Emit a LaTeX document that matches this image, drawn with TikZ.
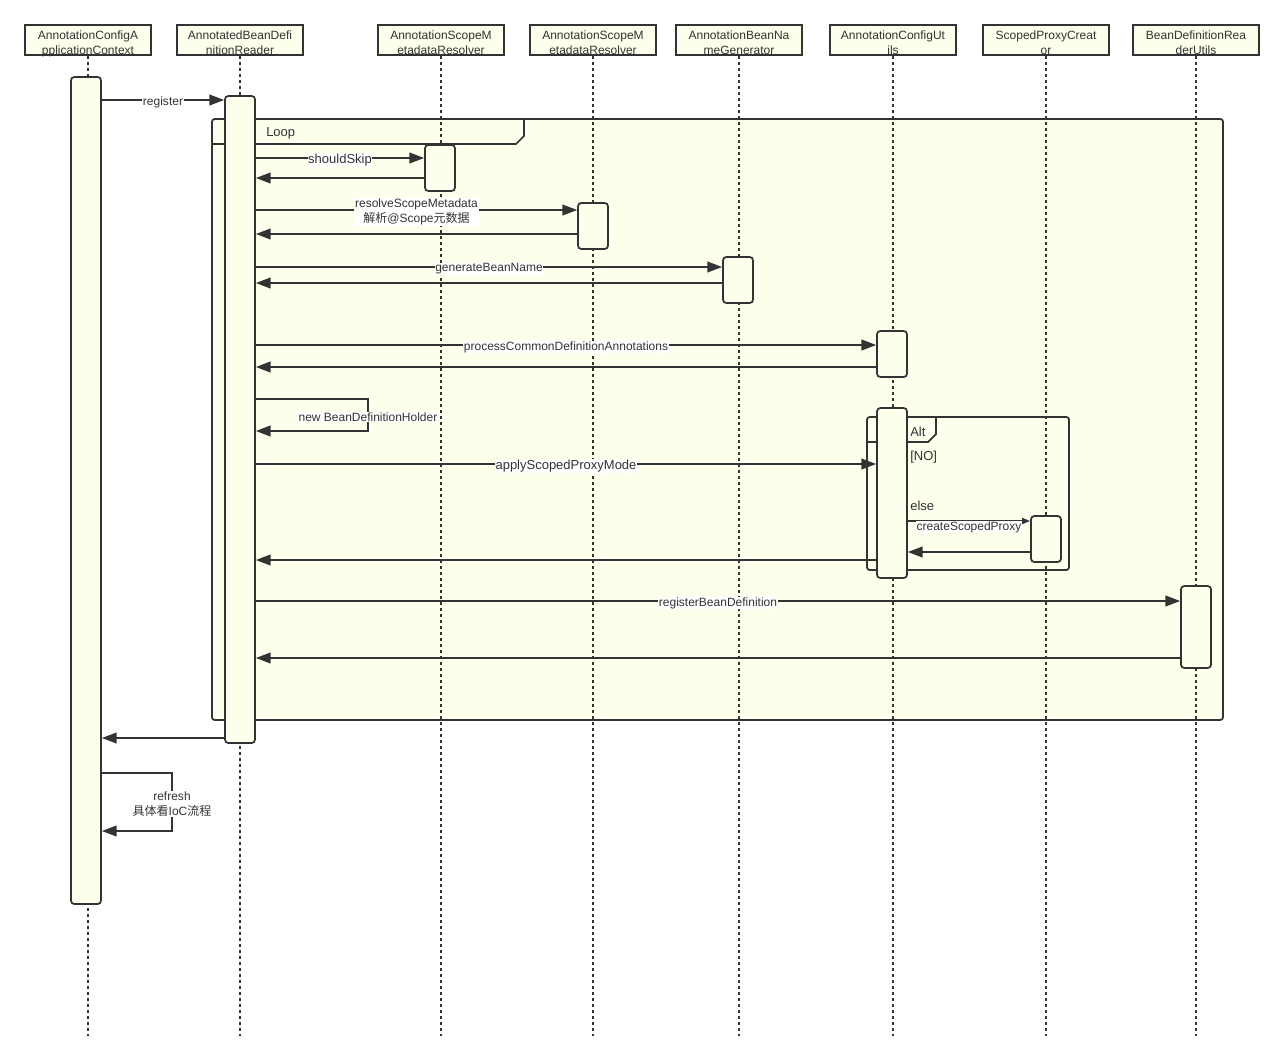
\documentclass[tikz,border=0pt]{standalone}
\usepackage{fontspec}
\setmainfont{Liberation Sans}
\newfontfamily\cjk{Noto Sans CJK SC}
\usepackage{tikz}
\usetikzlibrary{arrows.meta, fit}
\usepackage{xcolor}
\definecolor{fundo}{HTML}{FEFEEC}
\definecolor{traco}{HTML}{333333}

\begin{document}
\begin{tikzpicture}[x=0.75pt, y=-0.75pt,
    cabeca/.style={draw=traco, line width=1.5pt, fill=fundo, minimum width=94.5pt,
        minimum height=22.5pt, inner sep=0pt},
    textocab/.style={inner sep=0pt, align=center, text=traco, yshift=-3.5pt,
        font=\fontsize{9}{11.25}\selectfont},
    vida/.style={traco, line width=1.5pt, dash pattern=on 2.25pt off 2.25pt},
    barra/.style={draw=traco, line width=1.3pt, fill=fundo, rounded corners=2.5pt, inner sep=0pt},
    quadro/.style={draw=traco, line width=1.3pt, fill=fundo, rounded corners=2pt},
    aba/.style={traco, line width=1.3pt},
    msg/.style={traco, line width=1.2pt, -{Triangle[length=11pt, width=8pt]}},
    rotulo/.style={fill=white, inner sep=0.5pt, text=traco, align=center, yshift=-1.5pt,
        font=\fontsize{9}{11.25}\selectfont},
    titulo/.style={anchor=west, inner sep=0pt, text=traco, font=\fontsize{9.75}{12}\selectfont}]
    \useasboundingbox (0,0) rectangle (1284,1061);
    % Quadros
    \draw[quadro] (212,119) rectangle (1223,720);
    \draw[aba] (212,144) -- (516,144) -- (524,136) -- (524,119);
    \node[titulo] (loop) at (266,133) {Loop};
    \draw[quadro] (867,417) rectangle (1069,570);
    \draw[aba] (867,442) -- (928,442) -- (936,434) -- (936,417);
    \node[titulo] (alt) at (910,432) {Alt};
    \node[titulo] (nao) at (910,457) {[NO]};
    \node[titulo] (senao) at (910,506) {else};
    % Cabeçalhos
    \node[cabeca, label={[textocab]center:AnnotationConfigA\\pplicationContext\strut}] (hCtx) at (88,40) {};
    \node[cabeca, label={[textocab]center:AnnotatedBeanDefi\\nitionReader\strut}] (hLeitor) at (240,40) {};
    \node[cabeca, label={[textocab]center:AnnotationScopeM\\etadataResolver\strut}] (hEsc1) at (441,40) {};
    \node[cabeca, label={[textocab]center:AnnotationScopeM\\etadataResolver\strut}] (hEsc2) at (593,40) {};
    \node[cabeca, label={[textocab]center:AnnotationBeanNa\\meGenerator\strut}] (hNome) at (739,40) {};
    \node[cabeca, label={[textocab]center:AnnotationConfigUt\\ils\strut}] (hUtil) at (893,40) {};
    \node[cabeca, label={[textocab]center:ScopedProxyCreat\\or\strut}] (hProxy) at (1046,40) {};
    \node[cabeca, label={[textocab]center:BeanDefinitionRea\\derUtils\strut}] (hReg) at (1196,40) {};
    % Linhas de vida
    \draw[vida] (hCtx.south) -- ++(0,980);
    \draw[vida] (hLeitor.south) -- ++(0,980);
    \draw[vida] (hEsc1.south) -- ++(0,980);
    \draw[vida] (hEsc2.south) -- ++(0,980);
    \draw[vida] (hNome.south) -- ++(0,980);
    \draw[vida] (hUtil.south) -- ++(0,980);
    \draw[vida] (hProxy.south) -- ++(0,980);
    \draw[vida] (hReg.south) -- ++(0,980);
    % Barras de ativação
    \node[barra, fit={(71,77) (101,904)}] (ctx) {};
    \node[barra, fit={(225,96) (255,743)}] (leitor) {};
    \node[barra, fit={(425,145) (455,191)}] (esc1) {};
    \node[barra, fit={(578,203) (608,249)}] (esc2) {};
    \node[barra, fit={(723,257) (753,303)}] (nome) {};
    \node[barra, fit={(877,331) (907,377)}] (util1) {};
    \node[barra, fit={(877,408) (907,578)}] (util2) {};
    \node[barra, fit={(1031,516) (1061,562)}] (proxy) {};
    \node[barra, fit={(1181,586) (1211,668)}] (reg) {};
    % Mensagens
    \draw[msg] (ctx.east |- 0,100) -- (leitor.west |- 0,100) node[rotulo, midway] {register};
    \draw[msg] (leitor.east |- 0,158) -- (esc1.west |- 0,158)
        node[rotulo, midway, font=\fontsize{9.75}{12}\selectfont] {shouldSkip};
    \draw[msg] (esc1.west |- 0,178) -- (leitor.east |- 0,178);
    \draw[msg] (leitor.east |- 0,210) -- (esc2.west |- 0,210)
        node[rotulo, midway] {resolveScopeMetadata\\{\cjk 解析}@Scope{\cjk 元数据}};
    \draw[msg] (esc2.west |- 0,234) -- (leitor.east |- 0,234);
    \draw[msg] (leitor.east |- 0,267) -- (nome.west |- 0,267) node[rotulo, midway] {generateBeanName};
    \draw[msg] (nome.west |- 0,283) -- (leitor.east |- 0,283);
    \draw[msg] (leitor.east |- 0,345) -- (util1.west |- 0,345)
        node[rotulo, midway] {processCommonDefinitionAnnotations};
    \draw[msg] (util1.west |- 0,367) -- (leitor.east |- 0,367);
    % Auto-mensagem
    \coordinate (ida) at (368,399);
    \coordinate (volta) at (368,431);
    \draw[msg] (leitor.east |- ida) -- (ida) -- node[rotulo] {new BeanDefinitionHolder} (volta)
        -- (leitor.east |- volta);
    \draw[msg] (leitor.east |- 0,464) -- (util2.west |- 0,464)
        node[rotulo, midway, font=\fontsize{9.75}{12}\selectfont] {applyScopedProxyMode};
    \draw[traco, line width=1.2pt, -{Triangle[length=6pt, width=4.5pt]}] (util2.east |- 0,521)
        -- (proxy.west |- 0,521) node[rotulo, midway, yshift=-3pt] {createScopedProxy};
    \draw[msg] (proxy.west |- 0,552) -- (util2.east |- 0,552);
    \draw[msg] (util2.west |- 0,560) -- (leitor.east |- 0,560);
    \draw[msg] (leitor.east |- 0,601) -- (reg.west |- 0,601) node[rotulo, midway] {registerBeanDefinition};
    \draw[msg] (reg.west |- 0,658) -- (leitor.east |- 0,658);
    \draw[msg] (leitor.west |- 0,738) -- (ctx.east |- 0,738);
    % Refresh
    \coordinate (rIda) at (172,773);
    \coordinate (rVolta) at (172,831);
    \draw[msg] (ctx.east |- rIda) -- (rIda) -- node[rotulo] {refresh\\{\cjk 具体看}IoC{\cjk 流程}} (rVolta)
        -- (ctx.east |- rVolta);
\end{tikzpicture}
\end{document}
